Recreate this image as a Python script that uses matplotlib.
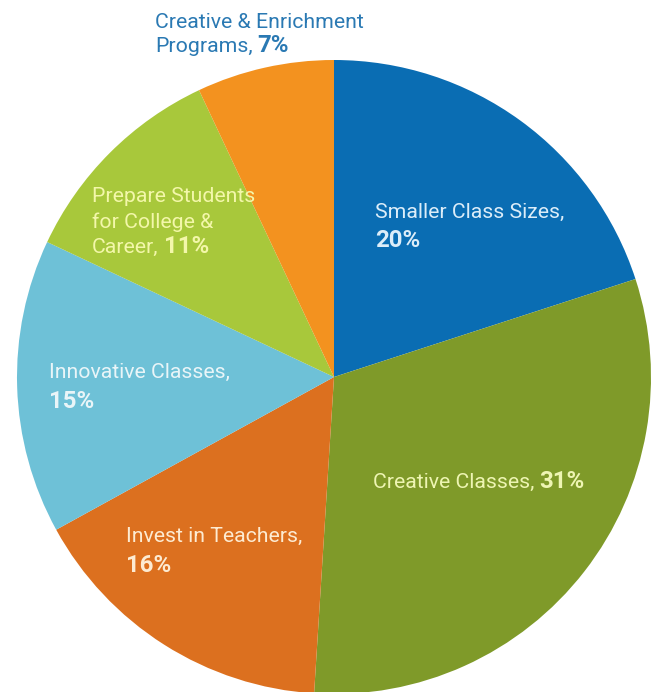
import matplotlib
matplotlib.use('Agg')
import matplotlib.pyplot as plt

# slices, clockwise from 12 o'clock
categories = ['Smaller Class Sizes', 'Creative Classes', 'Invest in Teachers',
              'Innovative Classes', 'Prepare Students for College & Career',
              'Creative & Enrichment Programs']
shares = [20, 31, 16, 15, 11, 7]
colors = ['#0a6db3', '#7f9a29', '#dc701f', '#6ec1d7', '#a8c83b', '#f3921f']

# label text, split in lines of (plain part, bold part)
label_lines = [
    [('Smaller Class Sizes,', ''), ('', '20%')],
    [('Creative Classes,', '31%')],
    [('Invest in Teachers,', ''), ('', '16%')],
    [('Innovative Classes,', ''), ('', '15%')],
    [('Prepare Students', ''), ('for College &', ''), ('Career,', '11%')],
    [('Creative & Enrichment', ''), ('Programs,', '7%')],
]
label_colors = ['#dcedf9', '#eef5b3', '#fdebd2', '#e9f5f8', '#f3f7aa', '#2a79b3']
# left x and first baseline in pixels from top-left, line step
label_pos = [(375, 218, 29), (373, 488, 27), (126, 542, 30),
             (49, 378, 30), (92, 202, 25.5), (155, 28, 24)]

W, H = 660, 692
plt.rcParams['font.family'] = ['Roboto', 'DejaVu Sans']

fig = plt.figure(figsize=(W / 100, H / 100), dpi=100)
cx, cy, r = 334, 377, 317
ax = fig.add_axes([(cx - r) / W, (H - cy - r) / H, 2 * r / W, 2 * r / H])
ax.pie(shares, colors=colors, startangle=90, counterclock=False, radius=1,
       wedgeprops=dict(linewidth=0))
ax.set_xlim(-1, 1)
ax.set_ylim(-1, 1)
ax.set_aspect('auto')
ax.axis('off')

fs = 15.3
pending = []
for lines, col, (x0, y0, step) in zip(label_lines, label_colors, label_pos):
    for i, (plain, bold) in enumerate(lines):
        yb = y0 + i * step
        t = None
        if plain:
            t = fig.text(x0 / W, 1 - yb / H, plain, color=col, fontsize=fs,
                         ha='left', va='baseline')
        if bold:
            pending.append((t, x0, yb, bold, col))

fig.canvas.draw()
renderer = fig.canvas.get_renderer()
for t, x0, yb, bold, col in pending:
    xs = x0
    if t is not None:
        xs = t.get_window_extent(renderer).x1 + 5
    fig.text(xs / W, 1 - yb / H, bold, color=col, fontsize=fs + 2,
             fontweight='bold', ha='left', va='baseline')

fig.savefig('out.png', dpi=100)
